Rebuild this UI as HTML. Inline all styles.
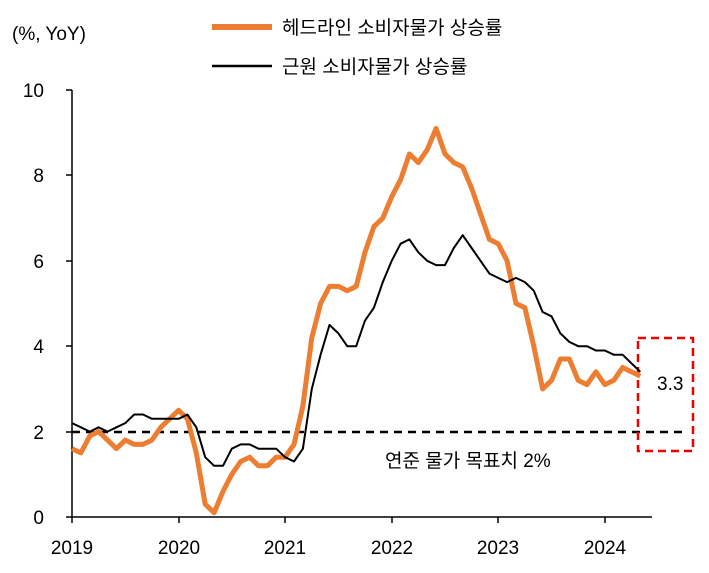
<!DOCTYPE html>
<html><head><meta charset="utf-8"><style>
body{margin:0;background:#fff;}
svg text{font-family:"Liberation Sans","Noto Sans CJK KR",sans-serif;fill:#000;}
</style></head><body>
<svg width="709" height="568" viewBox="0 0 709 568" xmlns="http://www.w3.org/2000/svg">
<text x="12" y="40" font-size="19">(%, YoY)</text>
<line x1="212" y1="27" x2="272" y2="27" stroke="#ED7D31" stroke-width="6"/>
<text x="282" y="34" font-size="19">헤드라인 소비자물가 상승률</text>
<line x1="212" y1="66" x2="272" y2="66" stroke="#000" stroke-width="2.5"/>
<text x="282" y="73" font-size="19">근원 소비자물가 상승률</text>
<g font-size="19" text-anchor="end">
<text x="44" y="97">10</text><text x="44" y="182">8</text><text x="44" y="268">6</text><text x="44" y="353">4</text><text x="44" y="439">2</text><text x="44" y="524">0</text>
</g>
<line x1="72" y1="90" x2="72" y2="517" stroke="#000" stroke-width="1.5"/>
<line x1="72" y1="517" x2="652" y2="517" stroke="#000" stroke-width="1.5"/>
<g stroke="#000" stroke-width="1.5">
<line x1="66" y1="90" x2="72" y2="90"/><line x1="66" y1="175" x2="72" y2="175"/><line x1="66" y1="261" x2="72" y2="261"/><line x1="66" y1="346" x2="72" y2="346"/><line x1="66" y1="432" x2="72" y2="432"/><line x1="66" y1="517" x2="72" y2="517"/>
<line x1="72" y1="517" x2="72" y2="523"/><line x1="179" y1="517" x2="179" y2="523"/><line x1="285" y1="517" x2="285" y2="523"/><line x1="392" y1="517" x2="392" y2="523"/><line x1="498" y1="517" x2="498" y2="523"/><line x1="605" y1="517" x2="605" y2="523"/>
</g>
<g font-size="19" text-anchor="middle">
<text x="72" y="554">2019</text><text x="179" y="554">2020</text><text x="285" y="554">2021</text><text x="392" y="554">2022</text><text x="498" y="554">2023</text><text x="605" y="554">2024</text>
</g>
<line x1="72" y1="432" x2="685" y2="432" stroke="#000" stroke-width="2.5" stroke-dasharray="8,6"/>
<text x="385" y="467" font-size="19">연준 물가 목표치 2%</text>
<rect x="638" y="338" width="55" height="113" fill="none" stroke="#E00" stroke-width="2.5" stroke-dasharray="8,5"/>
<text x="657" y="390" font-size="19">3.3</text>
<polyline id="h" fill="none" stroke="#ED7D31" stroke-width="5" stroke-linejoin="round" points=""/>
<polyline id="c" fill="none" stroke="#000" stroke-width="2" stroke-linejoin="round" points=""/>
</svg>
<script>
var H=[1.6,1.5,1.9,2.0,1.8,1.6,1.8,1.7,1.7,1.8,2.1,2.3,2.5,2.3,1.5,0.3,0.1,0.6,1.0,1.3,1.4,1.2,1.2,1.4,1.4,1.7,2.6,4.2,5.0,5.4,5.4,5.3,5.4,6.2,6.8,7.0,7.5,7.9,8.5,8.3,8.6,9.1,8.5,8.3,8.2,7.7,7.1,6.5,6.4,6.0,5.0,4.9,4.0,3.0,3.2,3.7,3.7,3.2,3.1,3.4,3.1,3.2,3.5,3.4,3.3];
var C=[2.2,2.1,2.0,2.1,2.0,2.1,2.2,2.4,2.4,2.3,2.3,2.3,2.3,2.4,2.1,1.4,1.2,1.2,1.6,1.7,1.7,1.6,1.6,1.6,1.4,1.3,1.6,3.0,3.8,4.5,4.3,4.0,4.0,4.6,4.9,5.5,6.0,6.4,6.5,6.2,6.0,5.9,5.9,6.3,6.6,6.3,6.0,5.7,5.6,5.5,5.6,5.5,5.3,4.8,4.7,4.3,4.1,4.0,4.0,3.9,3.9,3.8,3.8,3.6,3.4];
function p(a){return a.map(function(v,i){return (72+i*8.88).toFixed(1)+","+(517-v*42.7).toFixed(1)}).join(" ")}
document.getElementById("h").setAttribute("points",p(H));
document.getElementById("c").setAttribute("points",p(C));
</script>
</body></html>
